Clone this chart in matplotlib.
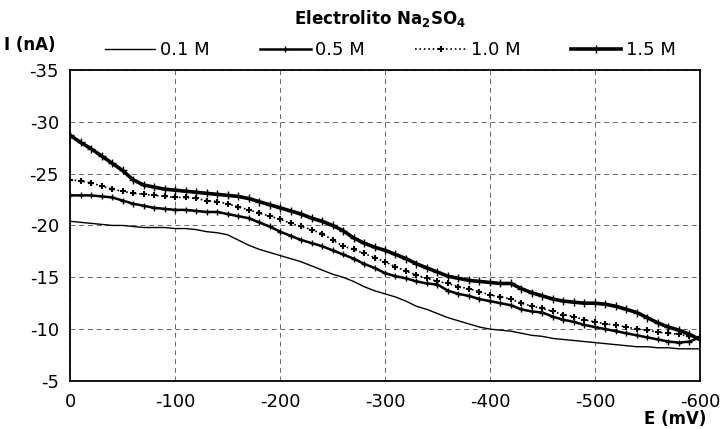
import matplotlib
matplotlib.use("Agg")
import matplotlib.pyplot as plt
import numpy as np

plt.rcParams["font.family"] = ["DejaVu Sans"]
plt.rcParams["axes.unicode_minus"] = False

# potential (mV), one reading every 10 mV
E_mV = np.arange(0, -601, -10)

I_01M = [-20.4, -20.3, -20.2, -20.1, -20.0, -20.0, -19.9, -19.8, -19.8, -19.8,
         -19.7, -19.7, -19.6, -19.4, -19.3, -19.1, -18.6, -18.1, -17.7, -17.4,
         -17.1, -16.8, -16.5, -16.1, -15.7, -15.3, -15.0, -14.6, -14.1, -13.7,
         -13.4, -13.1, -12.7, -12.2, -11.9, -11.5, -11.1, -10.8, -10.5, -10.2,
         -10.0, -9.9, -9.8, -9.6, -9.4, -9.3, -9.1, -9.0, -8.9, -8.8,
         -8.7, -8.6, -8.5, -8.4, -8.3, -8.3, -8.2, -8.2, -8.1, -8.1, -8.1]

I_05M = [-22.9, -22.9, -22.9, -22.8, -22.7, -22.4, -22.1, -21.9, -21.7, -21.6,
         -21.5, -21.5, -21.4, -21.3, -21.3, -21.1, -20.9, -20.7, -20.3, -19.9,
         -19.4, -19.0, -18.6, -18.3, -18.0, -17.6, -17.2, -16.8, -16.3, -15.9,
         -15.4, -15.1, -14.9, -14.6, -14.4, -14.3, -13.7, -13.4, -13.2, -12.9,
         -12.7, -12.5, -12.3, -11.9, -11.7, -11.6, -11.2, -10.9, -10.7, -10.4,
         -10.2, -10.0, -9.8, -9.6, -9.4, -9.2, -9.0, -8.8, -8.7, -8.8, -9.2]

I_10M = [-24.4, -24.3, -24.1, -23.8, -23.5, -23.3, -23.1, -23.0, -22.9, -22.8,
         -22.7, -22.7, -22.6, -22.4, -22.3, -22.1, -21.8, -21.5, -21.2, -20.9,
         -20.6, -20.2, -19.9, -19.6, -19.2, -18.6, -18.0, -17.7, -17.3, -16.9,
         -16.5, -16.0, -15.6, -15.2, -14.9, -14.6, -14.4, -14.1, -13.9, -13.6,
         -13.3, -13.1, -12.9, -12.5, -12.2, -12.0, -11.7, -11.4, -11.2, -10.9,
         -10.7, -10.5, -10.4, -10.2, -10.0, -9.9, -9.7, -9.6, -9.5, -9.3, -9.2]

I_15M = [-28.7, -28.0, -27.4, -26.7, -26.0, -25.3, -24.4, -23.9, -23.7, -23.5,
         -23.4, -23.3, -23.2, -23.1, -23.0, -22.9, -22.8, -22.6, -22.3, -22.0,
         -21.7, -21.4, -21.1, -20.7, -20.4, -20.0, -19.5, -18.8, -18.3, -17.9,
         -17.6, -17.2, -16.8, -16.3, -15.9, -15.5, -15.1, -14.9, -14.7, -14.6,
         -14.5, -14.4, -14.4, -13.9, -13.5, -13.2, -12.9, -12.7, -12.6, -12.5,
         -12.5, -12.4, -12.2, -11.9, -11.6, -11.1, -10.6, -10.2, -9.9, -9.5, -9.0]

labels = ["0.1 M", "0.5 M", "1.0 M", "1.5 M"]
x_ticks = [0, -100, -200, -300, -400, -500, -600]
y_ticks = [-35, -30, -25, -20, -15, -10, -5]

fig = plt.figure(figsize=(7.23, 4.29), dpi=100)
ax = fig.add_axes([0.097, 0.112, 0.871, 0.725])

ax.plot(E_mV, I_01M, color="black", lw=1.0, label=labels[0])
ax.plot(E_mV, I_05M, color="black", lw=1.8, marker="+", ms=4, mew=1.0,
        label=labels[1])
ax.plot(E_mV, I_10M, color="black", lw=1.2, ls=":", marker="+", ms=4.5, mew=1.5,
        label=labels[2])
ax.plot(E_mV, I_15M, color="black", lw=2.6, marker="+", ms=6, mew=1.0,
        label=labels[3])

ax.set_xlim(0, -600)
ax.set_ylim(-5, -35)
ax.set_xticks(x_ticks)
ax.set_yticks(y_ticks)
ax.tick_params(length=0, labelsize=13)
ax.tick_params(axis="x", pad=9)
ax.tick_params(axis="y", pad=8)
ax.grid(True, color="#666666", ls=(0, (5, 4)), lw=0.7)
for s in ax.spines.values():
    s.set_linewidth(1.3)
    s.set_color("black")

fig.text(0.525, 0.957, "Electrolito Na$_\\mathbf{2}$SO$_\\mathbf{4}$",
         ha="center", va="center", fontsize=12, fontweight="bold")
fig.text(0.006, 0.895, "I (nA)", ha="left", va="center", fontsize=12,
         fontweight="bold")
fig.text(0.977, 0.003, "E (mV)", ha="right", va="bottom", fontsize=12,
         fontweight="bold")

fig.legend(loc="center left", bbox_to_anchor=(0.135, 0.883), ncol=4,
           frameon=False, fontsize=13, handlelength=2.8, handletextpad=0.25,
           columnspacing=2.8, numpoints=1, borderaxespad=0)

fig.savefig("out.png", dpi=100)
